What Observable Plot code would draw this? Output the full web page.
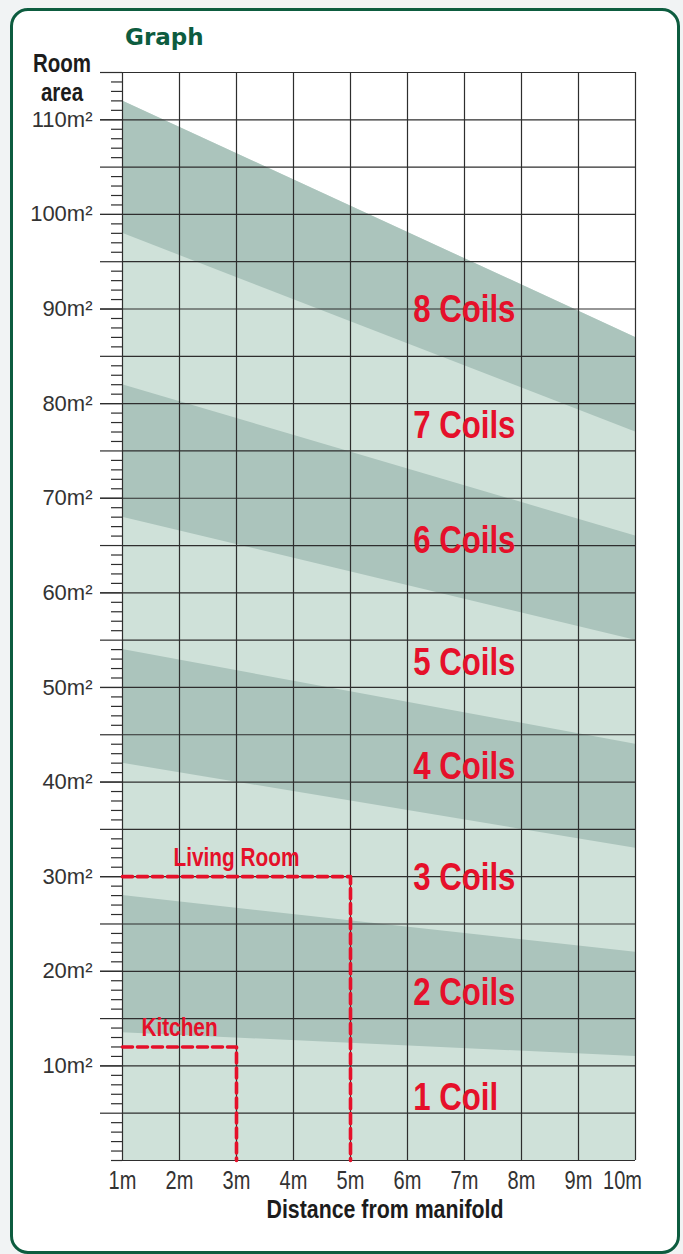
<!DOCTYPE html>
<html>
<head>
<meta charset="utf-8">
<script src="https://cdn.jsdelivr.net/npm/d3@7"></script>
<script src="https://cdn.jsdelivr.net/npm/@observablehq/plot@0.6"></script>
<style>
  html, body { margin: 0; padding: 0; }
  body { background: #f1f3f4; width: 683px; height: 1254px; overflow: hidden; }
  #wrap { position: relative; width: 683px; height: 1254px; }
  #card { position: absolute; left: 10px; top: 8px; width: 664px; height: 1240px;
          border: 3px solid #0d5c3f; border-radius: 18px; background: #fff; }
  #chart { position: absolute; left: 0; top: 0; }
  .t { position: absolute; white-space: nowrap; }
  #title { left: 125px; top: 24px; font: bold 23px "DejaVu Sans", sans-serif; color: #0d5c3f; }
  #ylab { left: 12px; top: 49px; width: 100px; text-align: center; line-height: 27px;
          font: bold 25px "Liberation Sans", Arial, sans-serif; color: #1c1c1c;
          transform: scaleX(0.82); transform-origin: 50px 0; }
  #xlab { left: 185px; width: 400px; text-align: center; top: 1194px; line-height: 18px;
          font: bold 26px "Liberation Sans", Arial, sans-serif; color: #1c1c1c;
          transform: scaleX(0.82); transform-origin: 200px 0; }
</style>
</head>
<body>
<div id="wrap">
  <div id="card"></div>
  <div id="chart"></div>
  <div class="t" id="title">Graph</div>
  <div class="t" id="ylab">Room<br>area</div>
  <div class="t" id="xlab">Distance from manifold</div>
</div>
<script>
// ---- data ----
const xTicks = [1, 2, 3, 4, 5, 6, 7, 8, 9, 10];
const xTickLabels = ["1m", "2m", "3m", "4m", "5m", "6m", "7m", "8m", "9m", "10m"];
const yLabelTicks = [10, 20, 30, 40, 50, 60, 70, 80, 90, 100, 110];
const bandStartX = 1;
const bandEndX = 10;
// dark bands (area at 1m -> area at 10m)
const bandTopStart = [112, 82, 54, 28];
const bandTopEnd = [87, 66, 44, 22];
const bandBottomStart = [98, 68, 42, 13.5];
const bandBottomEnd = [77, 55, 33, 11];
const coilLabels = ["8 Coils", "7 Coils", "6 Coils", "5 Coils", "4 Coils", "3 Coils", "2 Coils", "1 Coil"];
const coilLabelY = [90, 77.7, 65.5, 52.6, 41.6, 29.9, 17.8, 6.7];
const coilLabelX = 6.1;
const roomNames = ["Living Room", "Kitchen"];
const roomDistance = [5, 3];
const roomArea = [30, 12];

// ---- derived tables ----
const lightRows = [
  {x: bandStartX, top: bandTopStart[0]},
  {x: bandEndX, top: bandTopEnd[0]}
];
const bandRows = bandTopStart.flatMap((t, i) => [
  {band: i, x: bandStartX, y1: bandBottomStart[i], y2: bandTopStart[i]},
  {band: i, x: bandEndX, y1: bandBottomEnd[i], y2: bandTopEnd[i]}
]);
const roomRows = roomNames.flatMap((r, i) => [
  {room: r, x: 1, y: roomArea[i]},
  {room: r, x: roomDistance[i], y: roomArea[i]},
  {room: r, x: roomDistance[i], y: 0}
]);
const roomLabels = roomNames.map((r, i) => ({room: r, x: (1 + roomDistance[i]) / 2, y: roomArea[i]}));
const coilRows = coilLabels.map((c, i) => ({label: c, x: coilLabelX, y: coilLabelY[i]}));
const gridY = d3.range(0, 116, 5);
const minorY = d3.range(0, 116, 1).filter(d => d % 5 !== 0 || d === 0);
const major5 = d3.range(5, 116, 5);

const RED = "#e5102a";
const GRID = "#2e2e2e";
const SANS = '"Liberation Sans", Arial, sans-serif';
const xfmt = d => xTickLabels[xTicks.indexOf(d)];

const chart = Plot.plot({
  width: 683,
  height: 1254,
  marginLeft: 122,
  marginRight: 48,
  marginTop: 72,
  marginBottom: 94,
  x: {domain: [1, 10], label: null},
  y: {domain: [0, 115], label: null},
  style: {background: "transparent", color: "#333"},
  marks: [
    Plot.areaY(lightRows, {x: "x", y1: 0, y2: "top", fill: "#cfe1d9"}),
    Plot.areaY(bandRows, {x: "x", y1: "y1", y2: "y2", z: "band", fill: "#abc4bc"}),
    Plot.ruleX(xTicks, {stroke: GRID, strokeWidth: 1.2}),
    Plot.ruleY(gridY, {stroke: GRID, strokeWidth: 1.2}),
    Plot.axisY(minorY, {tickSize: 11, tickFormat: () => "", stroke: GRID, strokeWidth: 1.2, label: null}),
    Plot.axisY(major5, {tickSize: 22, tickFormat: () => "", stroke: GRID, strokeWidth: 1.2, label: null}),
    Plot.axisY(yLabelTicks, {tickSize: 22, tickPadding: 8, tickFormat: d => d + "m²", fontSize: 22,
      fontFamily: SANS, fill: "#333", stroke: GRID, strokeWidth: 1.2, label: null}),
    Plot.axisX(xTicks.slice(0, 9), {tickSize: 0, tickPadding: 11, tickFormat: xfmt, fontSize: 25,
      fontFamily: SANS, fill: "#333", label: null}),
    Plot.axisX(xTicks.slice(9), {tickSize: 0, tickPadding: 11, tickFormat: xfmt, fontSize: 25, dx: -13,
      fontFamily: SANS, fill: "#333", label: null}),
    Plot.line(roomRows, {x: "x", y: "y", z: "room", stroke: RED, strokeWidth: 3.6, strokeDasharray: "10,5"}),
    Plot.text(roomLabels, {x: "x", y: "y", text: "room", dy: -19, fill: RED, fontSize: 26,
      fontWeight: "bold", fontFamily: SANS}),
    Plot.text(coilRows, {x: "x", y: "y", text: "label", textAnchor: "start", fill: RED, fontSize: 39,
      fontWeight: "bold", fontFamily: SANS})
  ]
});
// condense selected labels horizontally (no condensed font installed)
const S = 0.8;
const narrowSet = new Set([...coilLabels, ...roomNames, ...xTickLabels]);
d3.select(chart).selectAll("text").each(function () {
  if (!narrowSet.has(this.textContent)) return;
  const x = this.getAttribute("x");
  if (x != null) this.setAttribute("x", (+x) / S);
  this.setAttribute("transform", (this.getAttribute("transform") || "") + ` scale(${S},1)`);
});
document.getElementById("chart").appendChild(chart);
</script>
</body>
</html>
